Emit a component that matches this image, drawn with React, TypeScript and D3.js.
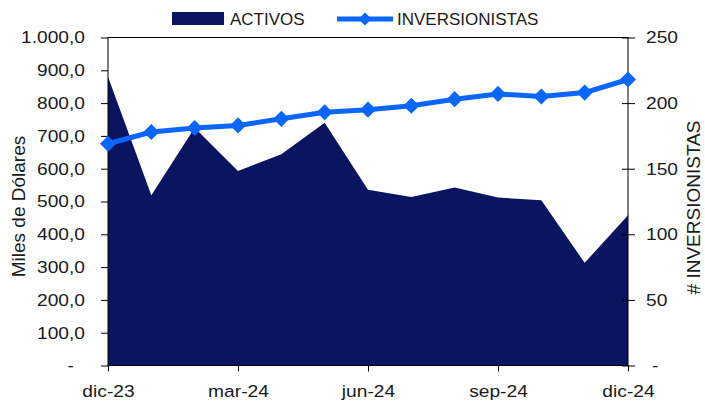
import { useEffect, useRef } from "react";
import * as d3 from "d3";

const months = ["dic-23", "ene-24", "feb-24", "mar-24", "abr-24", "may-24", "jun-24", "jul-24", "ago-24", "sep-24", "oct-24", "nov-24", "dic-24"];
const activos = [880, 519, 725, 593, 644, 740, 536, 514, 543, 512, 504, 313, 458];
const inversionistas = [169, 178, 181, 183, 188, 193, 195, 198, 203, 207, 205, 208, 218];
const leftTicks = [0, 100, 200, 300, 400, 500, 600, 700, 800, 900, 1000];
const rightTicks = [0, 50, 100, 150, 200, 250];
const xLabels = ["dic-23", "mar-24", "jun-24", "sep-24", "dic-24"];

const NAVY = "#0b1461";
const BLUE = "#0b66ff";
const INK = "#1a1a1a";
const FONT = "'Liberation Sans', Arial, sans-serif";
const SX = 1.13; // the reference text is a bit stretched horizontally

function fmtLeft(v: number): string {
  if (v === 0) return "-";
  const s = v.toFixed(1).replace(".", ",");
  return v >= 1000 ? s.replace(/^(\d)(\d{3})/, "$1.$2") : s;
}

export default function App() {
  const ref = useRef<SVGSVGElement>(null);

  useEffect(() => {
    const svg = d3.select(ref.current);
    svg.selectAll("*").remove();

    const m = { left: 108, right: 628, top: 37.5, bottom: 365.5 };
    const x = d3.scalePoint<string>().domain(months).range([m.left, m.right]);
    const yL = d3.scaleLinear().domain([0, 1000]).range([m.bottom, m.top]);
    const yR = d3.scaleLinear().domain([0, 250]).range([m.bottom, m.top]);

    // area
    const area = d3
      .area<number>()
      .x((_, i) => x(months[i]) ?? 0)
      .y0(yL(0))
      .y1((d) => yL(d));
    svg.append("path").datum(activos).attr("d", area).attr("fill", NAVY);

    // plot frame
    svg
      .append("rect")
      .attr("x", m.left)
      .attr("y", m.top)
      .attr("width", m.right - m.left)
      .attr("height", m.bottom - m.top)
      .attr("fill", "none")
      .attr("stroke", "#000")
      .attr("stroke-width", 1);

    // left axis
    const gl = svg.append("g").attr("transform", `translate(${m.left},0)`);
    gl.call(d3.axisLeft(yL).tickValues(leftTicks).tickSize(7).tickFormat((d) => fmtLeft(+d)));
    gl.select(".domain").remove();
    gl.selectAll<SVGTextElement, number>(".tick text")
      .attr("transform", `scale(${SX},1)`)
      .attr("x", (d) => (d === 0 ? -34 : -23) / SX);

    // right axis
    const gr = svg.append("g").attr("transform", `translate(${m.right},0)`);
    gr.call(d3.axisRight(yR).tickValues(rightTicks).tickSize(7).tickFormat((d) => (+d === 0 ? "-" : String(d))));
    gr.select(".domain").remove();
    gr.selectAll(".tick line").attr("x1", -6);
    gr.selectAll<SVGTextElement, number>(".tick text")
      .attr("transform", `scale(${SX},1)`)
      .attr("x", (d) => (d === 0 ? 24 : 18) / SX);

    // bottom axis
    const gb = svg.append("g").attr("transform", `translate(0,${m.bottom})`);
    gb.call(d3.axisBottom(x).tickValues(xLabels).tickSize(6).tickPadding(13));
    gb.select(".domain").remove();
    gb.selectAll(".tick text").attr("transform", `scale(${SX},1)`);

    svg.selectAll(".tick line").attr("stroke", "#000");
    svg
      .selectAll(".tick text")
      .attr("fill", INK)
      .attr("font-size", 17)
      .attr("font-family", FONT);

    // line
    const line = d3
      .line<number>()
      .x((_, i) => x(months[i]) ?? 0)
      .y((d) => yR(d));
    svg
      .append("path")
      .datum(inversionistas)
      .attr("d", line)
      .attr("fill", "none")
      .attr("stroke", BLUE)
      .attr("stroke-width", 5)
      .attr("stroke-linejoin", "round");

    const diamond = d3.symbol().type(d3.symbolDiamond2).size(165);
    svg
      .selectAll(".pt")
      .data(inversionistas)
      .join("path")
      .attr("class", "pt")
      .attr("transform", (d, i) => `translate(${x(months[i])},${yR(d)})`)
      .attr("d", diamond)
      .attr("fill", BLUE);

    // axis titles
    svg
      .append("text")
      .attr("transform", "translate(24.5,206.5) rotate(-90)")
      .attr("text-anchor", "middle")
      .attr("font-size", 19)
      .attr("font-family", FONT)
      .attr("fill", INK)
      .text("Miles de Dólares");
    svg
      .append("text")
      .attr("transform", "translate(700,207.5) rotate(-90)")
      .attr("text-anchor", "middle")
      .attr("font-size", 19)
      .attr("font-family", FONT)
      .attr("fill", INK)
      .text("# INVERSIONISTAS");

    // legend
    const lg = svg.append("g");
    lg.append("rect").attr("x", 172).attr("y", 12).attr("width", 52).attr("height", 13).attr("fill", NAVY);
    lg.append("text").attr("x", 230).attr("y", 25).attr("font-size", 17).attr("font-family", FONT).attr("fill", INK).text("ACTIVOS");
    lg.append("line").attr("x1", 337).attr("x2", 393).attr("y1", 19).attr("y2", 19).attr("stroke", BLUE).attr("stroke-width", 5);
    lg.append("path").attr("transform", "translate(365,19)").attr("d", d3.symbol().type(d3.symbolDiamond2).size(110)).attr("fill", BLUE);
    lg.append("text").attr("x", 397).attr("y", 25).attr("font-size", 17).attr("font-family", FONT).attr("fill", INK).text("INVERSIONISTAS");
  }, []);

  return <svg ref={ref} width={705} height={401} style={{ position: "absolute", left: 0, top: 0, background: "#fff" }} />;
}
